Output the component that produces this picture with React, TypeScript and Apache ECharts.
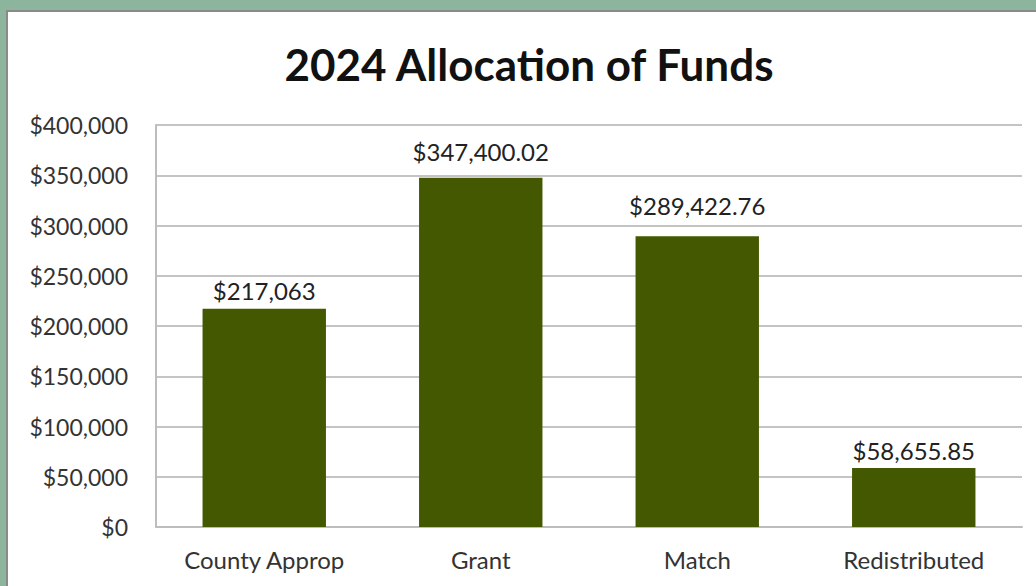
import React, { useEffect, useRef } from "react";
import * as echarts from "echarts";

const categories = ["County Approp", "Grant", "Match", "Redistributed"];
const values = [217063, 347400.02, 289422.76, 58655.85];
const yTicks = { min: 0, max: 400000, interval: 50000 };
const title = "2024 Allocation of Funds";
// gap between each data label and its bar (style, as placed in the original)
const labelGaps = [6, 14, 19, 6];

const FONT = "Lato, 'Open Sans', sans-serif";

function money(v: number): string {
  const isInt = Math.abs(v - Math.round(v)) < 1e-9;
  return (
    "$" +
    v.toLocaleString("en-US", {
      minimumFractionDigits: isInt ? 0 : 2,
      maximumFractionDigits: isInt ? 0 : 2,
    })
  );
}

export default function App() {
  const ref = useRef<HTMLDivElement>(null);
  useEffect(() => {
    if (!ref.current) return;
    const chart = echarts.init(ref.current, undefined, { renderer: "svg" });
    chart.setOption({
      animation: false,
      title: {
        text: title,
        left: 524,
        top: 37,
        textAlign: "center",
        textStyle: { fontFamily: FONT, fontSize: 44, fontWeight: "bold", color: "#111" },
      },
      grid: { left: 156, right: 14, top: 125, bottom: 59 },
      xAxis: {
        type: "category",
        data: categories,
        axisLine: { lineStyle: { color: "#bdbdbd", width: 2 } },
        axisTick: { show: false },
        axisLabel: { fontFamily: FONT, fontSize: 24, color: "#333", margin: 20 },
      },
      yAxis: {
        type: "value",
        min: yTicks.min,
        max: yTicks.max,
        interval: yTicks.interval,
        axisLine: { show: true, lineStyle: { color: "#bdbdbd", width: 2 } },
        axisTick: { show: false },
        splitLine: { lineStyle: { color: "#c4c4c4", width: 2 } },
        axisLabel: {
          fontFamily: FONT,
          fontSize: 23,
          color: "#333",
          margin: 28,
          padding: [0, 0, 4, 0],
          formatter: (v: number) => money(v),
        },
      },
      series: [
        {
          type: "bar",
          data: values.map((v, i) => ({ value: v, label: { distance: labelGaps[i] } })),
          barWidth: "57%",
          itemStyle: { color: "#435800" },
          label: {
            show: true,
            position: "top",
            distance: 6,
            fontFamily: FONT,
            fontSize: 24,
            color: "#222",
            formatter: (p: any) => money(p.value),
          },
        },
      ],
    });
    return () => chart.dispose();
  }, []);

  return (
    <div
      style={{
        position: "fixed",
        left: 0,
        top: 0,
        width: 1036,
        height: 586,
        background: "#8db49c",
        overflow: "hidden",
      }}
    >
      <div
        style={{
          position: "absolute",
          left: 6,
          top: 10,
          width: 1060,
          height: 620,
          background: "#fff",
          border: "2px solid #8a8a8a",
          boxSizing: "border-box",
        }}
      />
      <div ref={ref} style={{ position: "absolute", left: 0, top: 0, width: 1036, height: 586 }} />
    </div>
  );
}
